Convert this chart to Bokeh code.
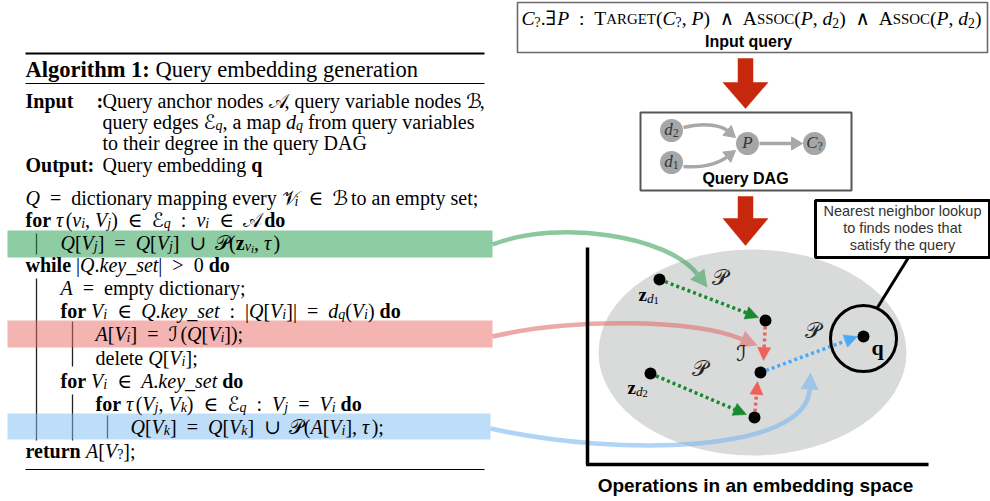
import math
import re
from bokeh.plotting import figure
from bokeh.models import Range1d, ColumnDataSource
from bokeh.embed import file_html
from bokeh.resources import INLINE
from bokeh.core.properties import value, field

# ------------------------------------------------------------------ content
TITLE = [("Algorithm 1:", "b"), (" Query embedding generation", "n")]
INPUT_LABEL = [("Input", "b")]
OUTPUT_LABEL = [("Output", "b")]
COLON = [(":", "b")]
INPUT_LINES = [
    [("Query anchor nodes ", "n"), ("𝒜", "n"), (", query variable nodes ", "n"), ("ℬ", "n"), (",", "n")],
    [("query edges ", "n"), ("ℰ", "n"), ("q", "s"), (", a map ", "n"), ("d", "i"), ("q", "s"),
     (" from query variables", "n")],
    [("to their degree in the query DAG", "n")],
]
OUTPUT_LINE = [("Query embedding ", "n"), ("q", "b")]

ALGO_LINES = [
    [("Q", "i"), ("  =  ", "n"), ("dictionary mapping every ", "n"), ("𝒱", "n"), ("i", "s"), ("  ∈  ", "n"),
     ("ℬ", "n"), (" to an empty set;", "n")],
    [("for ", "b"), ("τ", "i"), ("(", "n"), ("v", "i"), ("i", "s"), (", ", "n"), ("V", "i"), ("j", "s"),
     (")  ∈  ", "n"), ("ℰ", "n"), ("q", "s"), ("  :  ", "n"), ("v", "i"), ("i", "s"), ("  ∈  ", "n"),
     ("𝒜", "n"), (" do", "b")],
    [("Q", "i"), ("[", "n"), ("V", "i"), ("j", "s"), ("]  =  ", "n"), ("Q", "i"), ("[", "n"), ("V", "i"),
     ("j", "s"), ("]  ∪  ", "n"), ("𝒫", "n"), ("(", "n"), ("z", "b"), ("v", "s"), ("i", "ss"), (", ", "n"),
     ("τ", "i"), (")", "n")],
    [("while ", "b"), ("|", "n"), ("Q", "i"), (".", "n"), ("key_set", "i"), ("|  >  0 ", "n"), ("do", "b")],
    [("A", "i"), ("  =  ", "n"), ("empty dictionary;", "n")],
    [("for ", "b"), ("V", "i"), ("i", "s"), ("  ∈  ", "n"), ("Q", "i"), (".", "n"), ("key_set", "i"),
     ("  :  |", "n"), ("Q", "i"), ("[", "n"), ("V", "i"), ("i", "s"), ("]|  =  ", "n"), ("d", "i"),
     ("q", "s"), ("(", "n"), ("V", "i"), ("i", "s"), (") ", "n"), ("do", "b")],
    [("A", "i"), ("[", "n"), ("V", "i"), ("i", "s"), ("]  =  ", "n"), ("ℐ", "n"), ("(", "n"), ("Q", "i"),
     ("[", "n"), ("V", "i"), ("i", "s"), ("]);", "n")],
    [("delete ", "n"), ("Q", "i"), ("[", "n"), ("V", "i"), ("i", "s"), ("];", "n")],
    [("for ", "b"), ("V", "i"), ("i", "s"), ("  ∈  ", "n"), ("A", "i"), (".", "n"), ("key_set", "i"),
     (" do", "b")],
    [("for ", "b"), ("τ", "i"), ("(", "n"), ("V", "i"), ("j", "s"), (", ", "n"), ("V", "i"), ("k", "s"),
     (")  ∈  ", "n"), ("ℰ", "n"), ("q", "s"), ("  :  ", "n"), ("V", "i"), ("j", "s"), ("  =  ", "n"),
     ("V", "i"), ("i", "s"), (" do", "b")],
    [("Q", "i"), ("[", "n"), ("V", "i"), ("k", "s"), ("]  =  ", "n"), ("Q", "i"), ("[", "n"), ("V", "i"),
     ("k", "s"), ("]  ∪  ", "n"), ("𝒫", "n"), ("(", "n"), ("A", "i"), ("[", "n"), ("V", "i"), ("i", "s"),
     ("], ", "n"), ("τ", "i"), (");", "n")],
    [("return ", "b"), ("A", "i"), ("[", "n"), ("V", "i"), ("?", "sn"), ("];", "n")],
]
ALGO_LEVEL = [0, 0, 1, 0, 1, 1, 2, 2, 1, 2, 3, 0]
HIGHLIGHT_ROW = [2, 6, 10]
HIGHLIGHT_COLOR = ["#1E9A48", "#E86A66", "#7DBCF2"]

QUERY_FORMULA = [("C", "i"), ("?", "sn"), (".∃", "n"), ("P", "i"), ("  :  ", "n"), ("T", "n"), ("arget", "c"),
                 ("(", "n"), ("C", "i"), ("?", "sn"), (", ", "n"), ("P", "i"), (")  ∧  ", "n"), ("A", "n"),
                 ("ssoc", "c"), ("(", "n"), ("P", "i"), (", ", "n"), ("d", "i"), ("2", "sn"), (")  ∧  ", "n"),
                 ("A", "n"), ("ssoc", "c"), ("(", "n"), ("P", "i"), (", ", "n"), ("d", "i"), ("2", "sn"),
                 (")", "n")]
QUERY_CAPTION = "Input query"
DAG_CAPTION = "Query DAG"
DAG_NODES = [[("d", "i"), ("2", "sn")], [("d", "i"), ("1", "sn")], [("P", "i")], [("C", "i"), ("?", "sn")]]
SPACE_CAPTION = "Operations in an embedding space"
CALLOUT_LINES = ["Nearest neighbor lookup", "to finds nodes that", "satisfy the query"]
POINT_LABELS = [[("z", "b"), ("d", "s"), ("1", "ssn")], [("z", "b"), ("d", "s"), ("2", "ssn")],
                [("q", "b")]]
OP_LABELS = ["𝒫", "𝒫", "𝒫", "ℐ"]

# ------------------------------------------------------------------ layout (pixel positions)
TEXT_DY = -6
BODY = 20
TITLE_SIZE = 22.5
RULES_Y = [53, 83, 469]
RULES_W = [2.2, 1.2, 1.2]
RULE_X = (25, 484)
TITLE_BASE = 75
INPUT_BASES = [106, 127, 148]
OUTPUT_BASE = 170
LABEL_X, COLON_X, DESC_X, OUT_COLON_X = 25, 96, 102, 87
ALGO_BASES = [203, 225, 248, 270, 293, 316, 339, 363, 386, 409, 432, 456]
LEVEL_X = [25, 60, 95, 130]
BARS = [(36, 233, 254), (36, 278, 440), (72, 321, 366), (72, 394, 440), (107, 415, 438)]
BAND_TOP = [230, 320, 413]
BAND_BOT = [257, 347, 439]
BAND_X = [(7, 492), (7, 492), (7, 490)]

# right side
QBOX = (517, 987, 2, 52)
QFORM = (521, 24, 460)          # x0, baseline, target width
QCAP = (748, 47)
RED_ARROWS = [(745, 58, 82, 108), (745, 196, 218, 245)]   # cx, top, head y, tip
SHAFT_HW, HEAD_HW = 7.5, 22.5
DBOX = (640, 851, 112, 190)
DAG_XY = [(671, 130), (671, 162), (747, 143), (814, 143)]
DAG_R = 11.5
DAG_EDGES = [((683, 127), (705, 121), (722, 126), (735, 137)),
             ((683, 166), (708, 168), (722, 160), (735, 150)),
             ((759, 143), (772, 143), (788, 143), (802, 143))]
DCAP = (745, 184)

ELLIPSE = (752, 352, 308, 206)
AX_V = (587, 247, 464)
AX_H = (587, 928, 464)
CURVES = [((492, 244), (560, 218), (668, 236), (707, 287)),
          ((492, 336), (570, 318), (690, 318), (757, 345)),
          ((490, 428), (620, 457), (806, 452), (810, 372))]
CURVE_COLORS = ["#3DA35D", "#E07070", "#7AB8EE"]
POINTS = [(659, 279), (765, 320), (760, 372), (650, 373), (754, 417), (863, 336)]
DOT_ARROWS = [((659, 279), (758, 317), "#168A2C"),
              ((650, 373), (746, 414), "#168A2C"),
              ((765, 320), (763, 360), "#F0605A"),
              ((754, 417), (757, 381), "#F0605A"),
              ((760, 372), (857, 336), "#4DA8F5")]
POINT_LABEL_POS = [(638, 300), (627, 393), (871, 353)]
OP_LABEL_POS = [(719, 283), (699, 374), (812, 336), (741, 359)]
Q_CIRCLE = (863, 338, 33)
CALLOUT = (815, 989, 200, 257)
CALLOUT_BASES = [216, 233, 250]
LEADER = ((908, 257), (877, 307))
SCAP = (755, 491)

SERIF = "Liberation Serif, DejaVu Serif, DejaVu Sans"
SANS = "Liberation Sans, DejaVu Sans"

# ------------------------------------------------------------------ Times metrics
LOW = "abcdefghijklmnopqrstuvwxyz"
UP = "ABCDEFGHIJKLMNOPQRSTUVWXYZ"
N_LOW = [444, 500, 444, 500, 444, 333, 500, 500, 278, 278, 500, 278, 778, 500, 500, 500, 500, 333, 389, 278, 500, 500, 722, 500, 500, 444]
N_UP = [722, 667, 667, 722, 611, 556, 722, 722, 333, 389, 722, 611, 889, 722, 722, 556, 722, 667, 556, 611, 722, 722, 944, 722, 722, 611]
B_LOW = [500, 556, 444, 556, 444, 333, 500, 556, 278, 333, 556, 278, 833, 556, 500, 556, 556, 444, 389, 333, 556, 500, 722, 500, 500, 444]
B_UP = [722, 667, 722, 722, 667, 611, 778, 778, 389, 500, 778, 667, 944, 722, 778, 611, 778, 722, 556, 667, 722, 722, 1000, 722, 722, 667]
I_LOW = [500, 500, 444, 500, 444, 278, 500, 500, 278, 278, 444, 278, 722, 500, 500, 500, 500, 389, 389, 278, 500, 444, 667, 444, 444, 389]
I_UP = [611, 611, 667, 722, 611, 611, 722, 722, 333, 444, 667, 556, 833, 667, 722, 611, 722, 611, 500, 556, 722, 611, 833, 611, 556, 556]
PUNCT = {" ": 250, "(": 333, ")": 333, "[": 333, "]": 333, ",": 250, ".": 250, ";": 278, ":": 278,
         "|": 200, "_": 500, "=": 564, ">": 564, "?": 444, "1": 500, "2": 500, "0": 500}
SYM = {"∈": 700, "∪": 760, "∃": 600, "∧": 680, "τ": 480, "𝒜": 800, "ℬ": 680, "ℰ": 600, "𝒫": 720,
       "ℐ": 600, "𝒱": 640}
TABLES = {}
for key, lo, up in (("normal", N_LOW, N_UP), ("bold", B_LOW, B_UP), ("italic", I_LOW, I_UP)):
    t = dict(PUNCT)
    t.update(zip(LOW, lo))
    t.update(zip(UP, up))
    if key == "bold":
        t[":"] = 333
    TABLES[key] = t

KIND = {"n": ("normal", 1.0, 0.0), "i": ("italic", 1.0, 0.0), "b": ("bold", 1.0, 0.0),
        "s": ("italic", 0.7, 0.22), "sn": ("normal", 0.7, 0.22), "ss": ("italic", 0.55, 0.34),
        "ssn": ("normal", 0.55, 0.34), "c": ("normal", 0.76, 0.0)}


def em_width(text, style):
    tb = TABLES[style]
    return sum(tb.get(ch, SYM.get(ch, 500)) for ch in text) / 1000.0


def runs_width(runs, size):
    w = 0.0
    for t, k in runs:
        st, sc, _ = KIND[k]
        if k == "c":
            t = t.upper()
        w += em_width(t, st) * size * sc
    return w


SER = dict(x=[], y=[], t=[], st=[], sz=[], col=[])


def put_runs(x0, yb, runs, size, col="#000000"):
    x = x0
    for t, k in runs:
        st, sc, dy = KIND[k]
        if k == "c":
            t = t.upper()
        s = size * sc
        for tok in re.split(r"( +)", t):
            if not tok:
                continue
            if not tok.startswith(" "):
                SER["x"].append(x)
                SER["y"].append(yb + dy * size + TEXT_DY)
                SER["t"].append(tok)
                SER["st"].append(st)
                SER["sz"].append("%.1fpx" % s)
                SER["col"].append(col)
            x += em_width(tok, st) * s
    return x - x0


def head(tip, frm, L, hw):
    dx, dy = tip[0] - frm[0], tip[1] - frm[1]
    n = math.hypot(dx, dy)
    ux, uy = dx / n, dy / n
    bx, by = tip[0] - L * ux, tip[1] - L * uy
    px, py = -uy, ux
    return [tip[0], bx + hw * px, bx - hw * px], [tip[1], by + hw * py, by - hw * py], (bx, by)


# ------------------------------------------------------------------ figure
p = figure(width=990, height=501, x_range=Range1d(0, 990), y_range=Range1d(501, 0),
           output_backend="svg", toolbar_location=None, min_border=0)
p.axis.visible = False
p.grid.visible = False
p.outline_line_color = None

# ---------- algorithm block
put_runs(RULE_X[0], TITLE_BASE, TITLE, TITLE_SIZE)
put_runs(LABEL_X, INPUT_BASES[0], INPUT_LABEL, BODY)
put_runs(COLON_X, INPUT_BASES[0], COLON, BODY)
for yb, line in zip(INPUT_BASES, INPUT_LINES):
    put_runs(DESC_X, yb, line, BODY)
put_runs(LABEL_X, OUTPUT_BASE, OUTPUT_LABEL, BODY)
put_runs(OUT_COLON_X, OUTPUT_BASE, COLON, BODY)
put_runs(DESC_X, OUTPUT_BASE, OUTPUT_LINE, BODY)
for yb, lvl, line in zip(ALGO_BASES, ALGO_LEVEL, ALGO_LINES):
    put_runs(LEVEL_X[lvl], yb, line, BODY)

p.segment(x0=[RULE_X[0]] * 3, x1=[RULE_X[1]] * 3, y0=RULES_Y, y1=RULES_Y, line_color="#000000",
          line_width=RULES_W)
p.segment(x0=[b[0] for b in BARS], x1=[b[0] for b in BARS], y0=[b[1] for b in BARS],
          y1=[b[2] for b in BARS], line_color="#222222", line_width=1.3)

# ---------- top query box
p.quad(left=[QBOX[0]], right=[QBOX[1]], top=[QBOX[2]], bottom=[QBOX[3]], fill_color="white",
       line_color="#6A6A6A", line_width=1.6)
fw = runs_width(QUERY_FORMULA, 1.0)
put_runs(QFORM[0], QFORM[1], QUERY_FORMULA, QFORM[2] / fw)

# ---------- DAG box
p.quad(left=[DBOX[0]], right=[DBOX[1]], top=[DBOX[2]], bottom=[DBOX[3]], fill_color="white",
       line_color="#555555", line_width=2)
for (s, c1, c2, tip) in DAG_EDGES:
    hx, hy, base = head(tip, c2, 11, 6.5)
    p.bezier(x0=[s[0]], y0=[s[1]], cx0=[c1[0]], cy0=[c1[1]], cx1=[c2[0]], cy1=[c2[1]], x1=[base[0]],
             y1=[base[1]], line_color="#A8A8A8", line_width=3.5)
    p.patch(hx, hy, fill_color="#A8A8A8", line_color="#A8A8A8", line_width=1)
p.ellipse(x=[q[0] for q in DAG_XY], y=[q[1] for q in DAG_XY], width=2 * DAG_R, height=2 * DAG_R,
          fill_color="#A6A6A6", line_color=None)
for (cx, cy), lab in zip(DAG_XY, DAG_NODES):
    w = runs_width(lab, 17)
    put_runs(cx - w / 2, cy + 5, lab, 17, col="#333333")

# ---------- red block arrows
xs, ys = [], []
for cx, top, hy, tip in RED_ARROWS:
    xs.append([cx - SHAFT_HW, cx + SHAFT_HW, cx + SHAFT_HW, cx + HEAD_HW, cx, cx - HEAD_HW, cx - SHAFT_HW])
    ys.append([top, top, hy, hy, tip, hy, hy])
p.patches(xs, ys, fill_color="#C7280D", line_color="#C7280D", line_width=0.5)

# ---------- embedding space
p.ellipse(x=[ELLIPSE[0]], y=[ELLIPSE[1]], width=[ELLIPSE[2]], height=[ELLIPSE[3]], angle=0.0,
          fill_color="#D9DADA", line_color=None)

# highlight bands (translucent overlay on the algorithm text)
for r, col, top, bot, (x0, x1) in zip(HIGHLIGHT_ROW, HIGHLIGHT_COLOR, BAND_TOP, BAND_BOT, BAND_X):
    p.quad(left=[x0], right=[x1], top=[top], bottom=[bot], fill_color=col, fill_alpha=0.5, line_color=None)

# curved links
for (s, c1, c2, tip), col in zip(CURVES, CURVE_COLORS):
    hx, hy, base = head(tip, c2, 17, 9)
    p.bezier(x0=[s[0]], y0=[s[1]], cx0=[c1[0]], cy0=[c1[1]], cx1=[c2[0]], cy1=[c2[1]], x1=[base[0]],
             y1=[base[1]], line_color=col, line_alpha=0.6, line_width=4.5)
    p.patch(hx, hy, fill_color=col, fill_alpha=0.6, line_color=None)

p.segment(x0=[AX_V[0], AX_H[0] - 1.5], x1=[AX_V[0], AX_H[1]], y0=[AX_V[1], AX_H[2]], y1=[AX_V[2], AX_H[2]],
          line_color="#000000", line_width=3.5)

# dotted arrows
for s, tip, col in DOT_ARROWS:
    hx, hy, base = head(tip, s, 13, 6.5)
    p.line([s[0], base[0]], [s[1], base[1]], line_color=col, line_width=3.5, line_dash="3 3")
    p.patch(hx, hy, fill_color=col, line_color=col, line_width=0.5)

p.scatter(x=[q[0] for q in POINTS], y=[q[1] for q in POINTS], size=12, fill_color="#000000",
          line_color=None)

for (x0, yb), lab in zip(POINT_LABEL_POS, POINT_LABELS):
    put_runs(x0, yb, lab, 22 if lab[0][0] == "q" else 19)

p.text(x=[q[0] for q in OP_LABEL_POS], y=[q[1] + TEXT_DY for q in OP_LABEL_POS], text=OP_LABELS,
       text_font=value(SERIF), text_font_size="22px", text_align="center", text_baseline="middle",
       text_color="#222222")

p.ellipse(x=[Q_CIRCLE[0]], y=[Q_CIRCLE[1]], width=2 * Q_CIRCLE[2], height=2 * Q_CIRCLE[2],
          fill_color=None, line_color="#000000", line_width=3)
p.segment(x0=[LEADER[0][0]], y0=[LEADER[0][1]], x1=[LEADER[1][0]], y1=[LEADER[1][1]],
          line_color="#000000", line_width=3)
p.quad(left=[CALLOUT[0]], right=[CALLOUT[1]], top=[CALLOUT[2]], bottom=[CALLOUT[3]], fill_color="white",
       line_color="#000000", line_width=3)
p.text(x=[(CALLOUT[0] + CALLOUT[1]) / 2] * 3, y=[b + TEXT_DY for b in CALLOUT_BASES], text=CALLOUT_LINES,
       text_font=value(SANS), text_font_size="14.5px", text_align="center", text_baseline="alphabetic",
       text_color="#333333")

# captions
p.text(x=[QCAP[0], DCAP[0], SCAP[0]], y=[QCAP[1] + TEXT_DY, DCAP[1] + TEXT_DY, SCAP[1] + TEXT_DY],
       text=[QUERY_CAPTION, DAG_CAPTION, SPACE_CAPTION], text_font=value(SANS),
       text_font_size=["16px", "16px", "19px"], text_font_style="bold", text_align="center",
       text_baseline="alphabetic", text_color="#000000")

# all serif run text
src = ColumnDataSource(SER)
p.text(x="x", y="y", text="t", source=src, text_font=value(SERIF), text_font_style=field("st"),
       text_font_size=field("sz"), text_color=field("col"), text_align="left", text_baseline="alphabetic")

open("out.html", "w").write(file_html(p, INLINE))
